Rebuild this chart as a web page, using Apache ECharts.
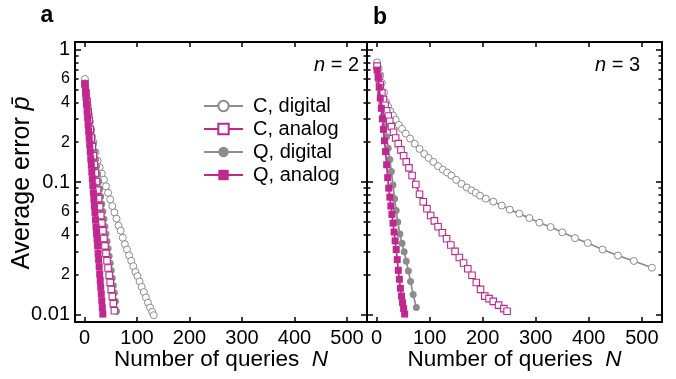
<!DOCTYPE html>
<html><head><meta charset="utf-8">
<script src="https://cdn.jsdelivr.net/npm/echarts@6/dist/echarts.min.js"></script>
<style>html,body{margin:0;padding:0;background:#fff}#c{width:676px;height:379px}</style>
</head><body><div id="c"></div>
<script>
// ---------- DATA ----------
const xTicks = [0, 100, 200, 300, 400, 500];
const yMajorTicks = [0.01, 0.1, 1];
const yMinorTicks = [0.02,0.03,0.04,0.05,0.06,0.07,0.08,0.09,0.2,0.3,0.4,0.5,0.6,0.7,0.8,0.9];
const yLabelValues = [0.01, 0.02, 0.04, 0.06, 0.1, 0.2, 0.4, 0.6, 1];
const yLabelTexts = ['0.01', '2', '4', '6', '0.1', '2', '4', '6', '1'];
const seriesNames = ['C, digital', 'C, analog', 'Q, digital', 'Q, analog'];
const panelLabels = ['a', 'b'];
const panelNotes = ['2', '3'];
const xAxisTitle = 'Number of queries';
const yAxisTitle = 'Average error';

// panel a (n = 2)
const aCdigN = [1,5,9,13,17,21,25,29,33,37,41,45,49,53,57,61,65,69,73,77,81,85,89,93,97,101,105,109,113,117,121,125,129,132];
const aCdigP = [0.60,0.42,0.31,0.245,0.20,0.168,0.145,0.129,0.116,0.104,0.093,0.083,0.074,0.066,0.059,0.053,0.047,0.043,0.038,0.034,0.031,0.028,0.0255,0.0232,0.021,0.0195,0.0178,0.0162,0.0148,0.0135,0.0123,0.0113,0.0105,0.0099];
const aCanaN = [1,3,5,7,9,11,13,15,17,19,21,23,25,27,29,31,33,35,37,39,41,43,45,47,49,51,53,55,57];
const aCanaP = [0.55,0.47,0.40,0.34,0.29,0.25,0.215,0.185,0.158,0.136,0.117,0.101,0.087,0.075,0.065,0.056,0.049,0.043,0.0375,0.033,0.029,0.0255,0.0225,0.0198,0.0175,0.0155,0.0137,0.0121,0.0107];
const aQdigN = [1,3,5,7,9,11,13,15,17,19,21,23,25,27,29,31,33,35,37,39,41,43,45,47,49,51,53,55,57,59,61];
const aQdigP = [0.56,0.49,0.43,0.375,0.328,0.287,0.252,0.221,0.194,0.170,0.149,0.131,0.115,0.101,0.0885,0.0777,0.0682,0.0599,0.0527,0.0463,0.0407,0.0358,0.0315,0.0277,0.0244,0.0215,0.0189,0.0166,0.0146,0.0126,0.0106];
const aQanaN = [1,2,3,4,5,6,7,8,9,10,11,12,13,14,15,16,17,18,19,20,21,22,23,24,25,26,27,28,29,30,31,32,33,34,35];
const aQanaP = [0.55,0.49,0.435,0.386,0.343,0.305,0.271,0.241,0.214,0.19,0.169,0.15,0.134,0.119,0.106,0.094,0.083,0.074,0.066,0.059,0.052,0.046,0.041,0.037,0.033,0.029,0.026,0.023,0.0203,0.0181,0.0161,0.0143,0.0127,0.0113,0.0101];

// panel b (n = 3)
const bCdigN = [1,4,7,10,14,18,22,26,31,36,42,48,55,63,72,81,90,98,107,116,125,133,141,150,160,170,179,187,195,206,220,236,251,269,288,307,328,350,374,398,426,455,485,519];
const bCdigP = [0.80,0.72,0.64,0.56,0.475,0.40,0.37,0.343,0.318,0.295,0.27,0.252,0.232,0.213,0.195,0.178,0.163,0.152,0.142,0.132,0.124,0.118,0.112,0.104,0.097,0.091,0.0866,0.083,0.079,0.075,0.0712,0.0665,0.062,0.0578,0.0535,0.0494,0.0458,0.0418,0.0378,0.0347,0.031,0.0279,0.0254,0.0226];
const bCanaN = [1,4,7,10,13,16,19,22,25,28,32,36,41,46,51,56,61,67,74,81,88,95,102,109,116,124,132,140,148,156,164,172,180,188,196,204,212,220,230,240,246];
const bCanaP = [0.75,0.62,0.54,0.47,0.42,0.38,0.345,0.315,0.288,0.262,0.238,0.215,0.195,0.175,0.158,0.142,0.128,0.112,0.096,0.081,0.071,0.063,0.056,0.051,0.046,0.0415,0.0374,0.0335,0.030,0.027,0.0245,0.0222,0.0198,0.0175,0.0155,0.0138,0.0132,0.0126,0.0118,0.0111,0.0106];
const bQdigN = [1,4,7,10,13,16,19,22,25,28,31,34,37,40,44,48,52,56,60,64,69,75];
const bQdigP = [0.72,0.58,0.47,0.39,0.32,0.265,0.22,0.18,0.148,0.12,0.095,0.075,0.061,0.05,0.0405,0.0345,0.0298,0.0253,0.0213,0.0178,0.0142,0.0113];
const bQanaN = [1,3,5,7,9,11,13,15,17,19,21,23,25,27,29,31,33,35,37,39,41,43,45,47,49,51,53];
const bQanaP = [0.70,0.62,0.52,0.43,0.36,0.30,0.25,0.205,0.17,0.135,0.108,0.09,0.077,0.066,0.057,0.049,0.042,0.036,0.031,0.026,0.0216,0.0185,0.0158,0.0138,0.0123,0.0111,0.0101];

// ---------- STYLE ----------
const FONT = '"Liberation Sans", Arial, sans-serif';
const GRAY = '#8c8c8c';
const MAG = '#c0288f';
const X_MIN = -18, X_MAX = 538;
const Y_MIN = 0.0088, Y_MAX = 1.14;
const TITLE_SIZE = 22.5;
const Y_TITLE_SIZE = 25;
const grids = [
  {left: 75, top: 42, width: 292, height: 280},
  {left: 367, top: 42, width: 295, height: 280}
];

function zip(n, p) { return n.map((v, i) => [v, p[i]]); }

const xAxes = [], yAxes = [];
grids.forEach((g, gi) => {
  const lineStyle = {color: '#000', width: 2};
  xAxes.push({
    gridIndex: gi, type: 'value', min: X_MIN, max: X_MAX, position: 'bottom',
    axisLine: {show: true, onZero: false, lineStyle},
    axisTick: {show: true, inside: true, length: 5, customValues: xTicks, lineStyle: {color: '#000', width: 1.5}},
    axisLabel: {show: true, customValues: xTicks, margin: 6, color: '#000', fontSize: 20, fontFamily: FONT},
    splitLine: {show: false},
    name: xAxisTitle + '  {i|N}', nameLocation: 'middle', nameGap: 26, nameMoveOverlap: false,
    nameTextStyle: {color: '#000', fontSize: TITLE_SIZE, fontFamily: FONT, verticalAlign: 'top',
      rich: {i: {fontStyle: 'italic', fontSize: TITLE_SIZE, fontFamily: FONT, color: '#000'}}}
  });
  xAxes.push({
    gridIndex: gi, type: 'value', min: X_MIN, max: X_MAX, position: 'top',
    axisLine: {show: true, onZero: false, lineStyle},
    axisTick: {show: true, inside: true, length: 5, customValues: xTicks, lineStyle: {color: '#000', width: 1.5}},
    axisLabel: {show: false}, splitLine: {show: false}
  });
  ['left', 'right'].forEach(pos => {
    yAxes.push({
      gridIndex: gi, type: 'log', min: Y_MIN, max: Y_MAX, position: pos,
      axisLine: {show: true, onZero: false, lineStyle},
      axisTick: {show: true, inside: true, length: 6, customValues: yMajorTicks, lineStyle: {color: '#000', width: 1.5}},
      axisLabel: {
        show: gi === 0 && pos === 'left', customValues: yLabelValues, margin: 5,
        formatter: function (v) {
          let idx = yLabelValues.findIndex(t => Math.abs(t - v) < 1e-9);
          if (idx < 0) return '';
          const s = yLabelTexts[idx];
          return s.length > 1 || s === '1' ? '{big|' + s + '}' : '{sm|' + s + '}';
        },
        rich: {
          big: {fontSize: 20, fontFamily: FONT, color: '#000'},
          sm: {fontSize: 16, fontFamily: FONT, color: '#000'}
        }
      },
      splitLine: {show: false}
    });
    yAxes.push({
      gridIndex: gi, type: 'log', min: Y_MIN, max: Y_MAX, position: pos,
      axisLine: {show: false, onZero: false},
      axisTick: {show: true, inside: true, length: 3.5, customValues: yMinorTicks, lineStyle: {color: '#000', width: 1.5}},
      axisLabel: {show: false}, splitLine: {show: false}
    });
  });
});

const styles = {
  'C, digital': {symbol: 'circle', symbolSize: 7, itemStyle: {color: '#fff', borderColor: GRAY, borderWidth: 1}, lineStyle: {color: GRAY, width: 1.7}},
  'C, analog':  {symbol: 'rect', symbolSize: 6.5, itemStyle: {color: '#fff', borderColor: MAG, borderWidth: 1.1}, lineStyle: {color: MAG, width: 1.5}},
  'Q, digital': {symbol: 'circle', symbolSize: 7, itemStyle: {color: GRAY, borderColor: GRAY, borderWidth: 0}, lineStyle: {color: GRAY, width: 1.7}},
  'Q, analog':  {symbol: 'rect', symbolSize: 7, itemStyle: {color: MAG, borderColor: MAG, borderWidth: 0}, lineStyle: {color: MAG, width: 1.7}}
};

const panelData = [
  {'C, digital': zip(aCdigN, aCdigP), 'C, analog': zip(aCanaN, aCanaP), 'Q, digital': zip(aQdigN, aQdigP), 'Q, analog': zip(aQanaN, aQanaP)},
  {'C, digital': zip(bCdigN, bCdigP), 'C, analog': zip(bCanaN, bCanaP), 'Q, digital': zip(bQdigN, bQdigP), 'Q, analog': zip(bQanaN, bQanaP)}
];
const drawOrder = ['C, digital', 'Q, digital', 'C, analog', 'Q, analog'];
const series = [];
panelData.forEach((pd, gi) => {
  drawOrder.forEach((name, k) => {
    const st = styles[name];
    series.push({
      name, type: 'line', xAxisIndex: gi * 2, yAxisIndex: gi * 4,
      data: pd[name], symbol: st.symbol, symbolSize: st.symbolSize, showSymbol: true,
      itemStyle: st.itemStyle, lineStyle: st.lineStyle, z: 2 + k,
      emphasis: {disabled: true}, animation: false
    });
  });
});

const textStyleBase = {fontFamily: FONT, fill: '#000'};
const graphic = [
  {type: 'text', x: 47, y: 27, style: Object.assign({text: panelLabels[0], fontSize: 23, fontWeight: 'bold', align: 'center', verticalAlign: 'bottom'}, textStyleBase)},
  {type: 'text', x: 380, y: 29, style: Object.assign({text: panelLabels[1], fontSize: 23, fontWeight: 'bold', align: 'center', verticalAlign: 'bottom'}, textStyleBase)},
  {type: 'text', x: 359, y: 65, style: Object.assign({text: '{i|n} = ' + panelNotes[0], fontSize: 20, align: 'right', verticalAlign: 'middle',
    rich: {i: {fontStyle: 'italic', fontSize: 20, fontFamily: FONT}}}, textStyleBase)},
  {type: 'text', x: 640, y: 65, style: Object.assign({text: '{i|n} = ' + panelNotes[1], fontSize: 20, align: 'right', verticalAlign: 'middle',
    rich: {i: {fontStyle: 'italic', fontSize: 20, fontFamily: FONT}}}, textStyleBase)},
  {type: 'text', x: 22, y: 183, rotation: Math.PI / 2, style: Object.assign({text: yAxisTitle + ' {i|p\u0304}', fontSize: Y_TITLE_SIZE, align: 'center', verticalAlign: 'middle',
    rich: {i: {fontStyle: 'italic', fontSize: Y_TITLE_SIZE, fontFamily: FONT}}}, textStyleBase)}
];

const chart = echarts.init(document.getElementById('c'), null, {renderer: 'canvas'});
chart.setOption({
  animation: false,
  backgroundColor: '#fff',
  grid: grids.map(g => Object.assign({containLabel: false, outerBoundsMode: 'none'}, g)),
  xAxis: xAxes,
  yAxis: yAxes,
  legend: {
    data: seriesNames, orient: 'vertical', left: 203, top: 96, itemGap: 3, padding: 0,
    itemWidth: 39, itemHeight: 13, selectedMode: false,
    textStyle: {fontSize: 20, fontFamily: FONT, color: '#000', padding: [0, 0, 0, 5]}
  },
  series,
  graphic
});
</script></body></html>
